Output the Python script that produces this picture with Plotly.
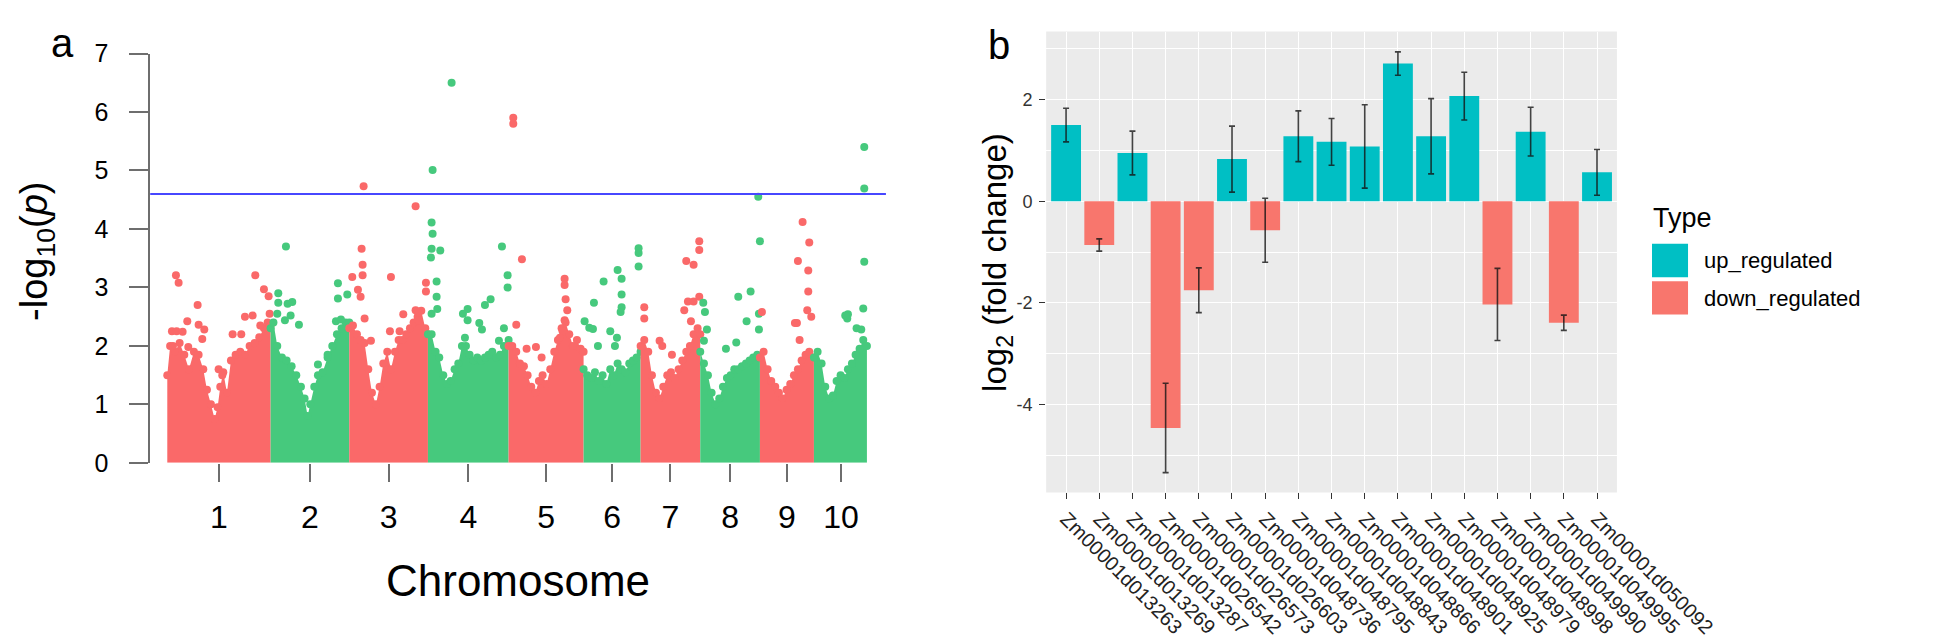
import plotly.graph_objects as go

W, H = 1946, 640

# ---------------- Panel a : Manhattan plot data ----------------
chrom_names = ["1", "2", "3", "4", "5", "6", "7", "8", "9", "10"]
chrom_lengths_mb = [310, 236, 236, 242, 225, 171, 179, 179, 162, 162]
threshold = 4.6

# upper envelope of the dense SNP mass (position in Mb within chromosome, -log10 p)
chr1_envelope = [(0, 1.5), (8.5, 2.0), (23, 1.9), (37, 2.05), (51, 1.85), (65, 1.6), (80, 1.9),
                 (94, 1.85), (108, 1.6), (119, 1.25), (131, 1.0), (142, 0.75), (151, 0.95),
                 (159, 1.3), (168, 1.55), (179, 1.2), (191, 1.75), (205, 1.85), (219, 1.9),
                 (233, 1.85), (247, 2.0), (262, 2.05), (276, 2.15), (290, 2.3), (301, 2.4), (310, 2.35)]
chr2_envelope = [(0, 2.3), (8.5, 2.4), (20, 2.0), (34, 1.8), (48, 1.75), (63, 1.65), (77, 1.5),
                 (91, 1.3), (102, 1.1), (111, 0.8), (119, 1.0), (131, 1.3), (142, 1.5), (156, 1.55),
                 (171, 1.8), (185, 2.0), (199, 2.2), (213, 2.3), (225, 2.4), (236, 2.4)]
chr3_envelope = [(0, 2.3), (11, 2.35), (23, 2.2), (34, 2.1), (46, 2.05), (57, 1.6), (68, 1.2),
                 (80, 1.0), (91, 1.3), (102, 1.7), (114, 1.9), (125, 1.6), (137, 1.9), (148, 2.1),
                 (159, 2.1), (171, 2.2), (182, 2.3), (193, 2.4), (205, 2.5), (216, 2.6), (228, 2.3), (236, 2.2)]
chr4_envelope = [(0, 2.2), (11, 2.2), (23, 1.9), (34, 1.8), (46, 1.5), (57, 1.35), (68, 1.4),
                 (80, 1.6), (91, 1.7), (102, 2.0), (114, 2.0), (125, 1.85), (137, 1.75), (148, 1.8),
                 (159, 1.75), (171, 1.8), (182, 1.85), (193, 1.9), (205, 1.8), (216, 1.85), (228, 2.0), (242, 2.1)]
chr5_envelope = [(0, 2.0), (11, 2.0), (23, 1.9), (34, 1.7), (46, 1.65), (57, 1.5), (68, 1.3),
                 (80, 1.2), (91, 1.4), (102, 1.5), (114, 1.35), (125, 1.6), (137, 1.9), (148, 2.1),
                 (159, 2.3), (171, 2.4), (182, 2.2), (193, 2.0), (205, 2.1), (216, 1.95), (225, 1.9)]
chr6_envelope = [(0, 1.6), (11, 1.5), (23, 1.45), (34, 1.55), (46, 1.4), (57, 1.5), (68, 1.35),
                 (80, 1.6), (91, 1.5), (102, 1.7), (114, 1.6), (125, 1.55), (137, 1.7), (148, 1.75),
                 (159, 1.8), (171, 1.9)]
chr7_envelope = [(0, 2.0), (11, 2.1), (23, 1.9), (34, 1.5), (46, 1.2), (57, 1.1), (68, 1.3),
                 (80, 1.5), (91, 1.55), (102, 1.45), (114, 1.6), (125, 1.75), (137, 1.9), (148, 2.0),
                 (159, 2.2), (171, 2.3), (179, 2.2)]
chr8_envelope = [(0, 1.9), (11, 1.7), (23, 1.5), (34, 1.2), (46, 1.0), (57, 1.1), (68, 1.3),
                 (80, 1.45), (91, 1.5), (102, 1.6), (114, 1.6), (125, 1.65), (137, 1.7), (148, 1.75),
                 (159, 1.8), (171, 1.85), (179, 1.8)]
chr9_envelope = [(0, 1.8), (11, 1.9), (23, 1.6), (34, 1.4), (46, 1.3), (57, 1.2), (68, 1.1),
                 (80, 1.25), (91, 1.35), (102, 1.5), (114, 1.6), (125, 1.75), (137, 1.85), (148, 1.9), (162, 1.8)]
chr10_envelope = [(0, 1.8), (11, 1.9), (23, 1.7), (34, 1.3), (46, 1.1), (57, 1.15), (68, 1.4),
                  (80, 1.5), (91, 1.45), (102, 1.6), (114, 1.7), (125, 1.85), (137, 1.95), (148, 2.1), (159, 2.0)]

# individual SNPs standing out above the mass (position in Mb within chromosome, -log10 p)
chr1_hits = [(26, 3.21), (34, 3.08), (14, 2.25), (28, 2.25), (46, 2.24), (60, 2.42), (91, 2.70),
             (94, 2.36), (111, 2.28), (105, 2.12), (17, 2.0), (63, 1.98), (154, 1.6), (165, 1.5),
             (196, 2.2), (233, 2.5), (256, 2.52), (222, 2.2), (264, 3.21), (290, 2.97), (304, 2.85),
             (307, 2.55), (279, 2.35)]
chr2_hits = [(23, 2.90), (23, 2.74), (20, 2.55), (46, 3.70), (51, 2.72), (65, 2.75), (60, 2.52),
             (85, 2.36), (43, 2.44), (142, 1.68), (171, 1.85), (202, 3.07), (202, 2.81), (196, 2.42),
             (211, 2.45), (230, 2.88)]
chr3_hits = [(43, 4.73), (37, 3.66), (40, 3.39), (40, 3.21), (9, 3.18), (26, 2.96), (34, 2.84),
             (46, 2.47), (125, 3.18), (199, 4.39), (199, 2.61), (162, 2.54), (208, 2.44), (230, 3.08),
             (230, 2.93), (151, 2.25), (122, 2.25), (65, 2.09)]
chr4_hits = [(71, 6.50), (14, 5.01), (11, 4.11), (14, 3.92), (11, 3.66), (37, 3.63), (9, 3.51),
             (26, 3.10), (26, 2.84), (28, 2.63), (11, 2.55), (119, 2.63), (111, 2.14), (105, 2.55),
             (119, 2.44), (171, 2.70), (188, 2.80), (154, 2.39), (162, 2.28), (213, 2.09), (222, 3.70),
             (228, 2.30), (239, 3.21), (239, 3.00)]
chr5_hits = [(14, 5.90), (14, 5.80), (40, 3.48), (23, 2.36), (168, 3.15), (168, 3.04), (171, 2.80),
             (176, 2.61), (168, 2.44), (162, 2.25), (154, 2.14), (54, 1.95), (82, 1.98), (99, 1.80)]
chr6_hits = [(31, 2.74), (60, 3.10), (102, 3.30), (114, 3.15), (114, 2.88), (114, 2.66), (111, 2.58),
             (165, 3.67), (165, 3.59), (165, 3.36), (3, 2.42), (17, 2.31), (28, 2.29), (80, 2.25),
             (100, 2.14), (94, 2.00), (43, 2.00)]
chr7_hits = [(11, 2.66), (11, 2.47), (137, 3.45), (159, 3.39), (176, 3.79), (176, 3.64), (131, 2.61),
             (142, 2.76), (159, 2.76), (176, 2.84), (151, 2.42), (57, 2.09), (65, 2.00), (94, 1.85)]
chr8_hits = [(174, 4.55), (179, 3.79), (151, 2.93), (114, 2.84), (9, 2.74), (14, 2.58), (20, 2.28),
             (11, 2.09), (139, 2.42), (176, 2.55), (176, 2.28), (108, 2.06), (77, 1.95)]
chr9_hits = [(128, 4.12), (148, 3.77), (114, 3.45), (145, 3.29), (145, 2.93), (142, 2.61), (154, 2.50),
             (111, 2.39), (6, 2.58), (105, 2.39), (119, 2.10)]
chr10_hits = [(151, 5.40), (151, 4.69), (151, 3.44), (148, 2.64), (102, 2.54), (100, 2.47), (142, 2.28),
              (94, 2.52), (128, 2.30)]

# ---------------- Panel b : qRT-PCR bar data ----------------
genes = ["Zm00001d013263", "Zm00001d013269", "Zm00001d013287", "Zm00001d026542",
         "Zm00001d026573", "Zm00001d026603", "Zm00001d048736", "Zm00001d048795",
         "Zm00001d048843", "Zm00001d048866", "Zm00001d048901", "Zm00001d048925",
         "Zm00001d048979", "Zm00001d048998", "Zm00001d049990", "Zm00001d049995",
         "Zm00001d050092"]
log2fc = [1.50, -0.86, 0.95, -4.46, -1.75, 0.83, -0.57, 1.28, 1.17, 1.08, 2.71, 1.28,
          2.07, -2.03, 1.37, -2.39, 0.57]
log2fc_err = [0.33, 0.12, 0.43, 0.88, 0.44, 0.65, 0.63, 0.50, 0.46, 0.82, 0.23, 0.74,
              0.47, 0.71, 0.48, 0.15, 0.45]
reg_type = ["up_regulated", "down_regulated", "up_regulated", "down_regulated", "down_regulated",
            "up_regulated", "down_regulated", "up_regulated", "up_regulated", "up_regulated",
            "up_regulated", "up_regulated", "up_regulated", "down_regulated", "up_regulated",
            "down_regulated", "up_regulated"]
type_levels = ["up_regulated", "down_regulated"]

# ---------------- styles ----------------
RED_A, GREEN_A = "#FA6969", "#46C97D"
UP_COL, DOWN_COL = "#00BFC4", "#F8766D"
FONT = "Liberation Sans, Arial, Helvetica, sans-serif"
type_colors = {"up_regulated": UP_COL, "down_regulated": DOWN_COL}


def fx(p):
    return p / W


def fy(p):
    return 1 - p / H


envelopes = [chr1_envelope, chr2_envelope, chr3_envelope, chr4_envelope, chr5_envelope,
             chr6_envelope, chr7_envelope, chr8_envelope, chr9_envelope, chr10_envelope]
hits = [chr1_hits, chr2_hits, chr3_hits, chr4_hits, chr5_hits,
        chr6_hits, chr7_hits, chr8_hits, chr9_hits, chr10_hits]

offsets = []
acc = 0
for L in chrom_lengths_mb:
    offsets.append(acc)
    acc += L
genome_len = acc
centers = [o + L / 2 for o, L in zip(offsets, chrom_lengths_mb)]

fig = go.Figure()

for i in range(len(chrom_names)):
    col = RED_A if i % 2 == 0 else GREEN_A
    ex = [offsets[i] + p for p, _ in envelopes[i]]
    ey = [v for _, v in envelopes[i]]
    fig.add_trace(go.Scatter(x=ex, y=ey, mode="markers", fill="tozeroy", fillcolor=col,
                             marker=dict(color=col, size=8, line=dict(width=0)),
                             cliponaxis=False, hoverinfo="skip", showlegend=False,
                             xaxis="x", yaxis="y"))
    hx = [offsets[i] + p for p, _ in hits[i]]
    hy = [v for _, v in hits[i]]
    fig.add_trace(go.Scatter(x=hx, y=hy, mode="markers",
                             marker=dict(color=col, size=8, line=dict(width=0)),
                             cliponaxis=False, showlegend=False, xaxis="x", yaxis="y"))

bar_colors = [type_colors[t] for t in reg_type]
fig.add_trace(go.Bar(x=genes, y=log2fc, width=0.9, marker=dict(color=bar_colors, line=dict(width=0)),
                     error_y=dict(type="data", array=log2fc_err, symmetric=True,
                                  color="rgba(20,20,20,0.8)", thickness=1.6, width=3),
                     showlegend=False, xaxis="x2", yaxis="y2"))

# pixel layout
a_left, a_right, a_top, a_bottom = 150, 926, 33, 461
mb_per_px = genome_len / (907 - 168)
x_lo = -(168 - a_left) * mb_per_px
x_hi = genome_len + (a_right - 907) * mb_per_px

b_left, b_right, b_top, b_bottom = 1095, 1697, 10, 492
b_ymin, b_ymax = -5.73, 3.34

fig.update_layout(
    width=W, height=H, autosize=False,
    margin=dict(l=0, r=0, t=0, b=0),
    paper_bgcolor="white", plot_bgcolor="white",
    font=dict(family=FONT, color="black"),
    bargap=0.1,
    xaxis=dict(domain=[fx(a_left), fx(a_right)], range=[x_lo, x_hi], anchor="y",
               tickmode="array", tickvals=centers, ticktext=chrom_names,
               ticks="outside", ticklen=18, tickwidth=1.5, tickcolor="#6E6E6E",
               showline=False, showgrid=False, zeroline=False,
               tickfont=dict(size=32, color="black", family=FONT), ticklabelstandoff=8),
    yaxis=dict(domain=[fy(a_bottom), fy(a_top)], range=[0, 7], anchor="x",
               tickmode="array", tickvals=[0, 1, 2, 3, 4, 5, 6, 7],
               ticks="outside", ticklen=19, tickwidth=1.5, tickcolor="#6E6E6E",
               showline=True, linecolor="#6E6E6E", linewidth=1.5,
               showgrid=False, zeroline=False,
               tickfont=dict(size=25, color="black", family=FONT), ticklabelstandoff=16),
    xaxis2=dict(domain=[fx(b_left), fx(b_right)], anchor="y2", type="category",
                range=[-0.6, len(genes) - 0.4], tickangle=45,
                ticks="outside", ticklen=6, tickwidth=1.2, tickcolor="#333333",
                showgrid=True, gridcolor="white", gridwidth=1.3,
                showline=False, zeroline=False,
                tickfont=dict(size=20, color="#222222", family=FONT)),
    yaxis2=dict(domain=[fy(b_bottom), fy(b_top)], anchor="x2", range=[b_ymin, b_ymax],
                tickmode="array", tickvals=[-4, -2, 0, 2], ticktext=["-4", "-2", "0", "2"],
                ticks="outside", ticklen=6, tickwidth=1.2, tickcolor="#333333",
                showgrid=True, gridcolor="white", gridwidth=1.3,
                minor=dict(tickmode="array", tickvals=[-5, -3, -1, 1, 3], showgrid=True,
                           gridcolor="white", gridwidth=0.6, ticks=""),
                showline=False, zeroline=False,
                tickfont=dict(size=18, color="#333333", family=FONT), ticklabelstandoff=3),
)

shapes = [
    dict(type="rect", xref="x2 domain", yref="y2 domain", x0=0, x1=1, y0=0, y1=1,
         fillcolor="#EBEBEB", line=dict(width=0), layer="below"),
    dict(type="line", xref="x domain", yref="y", x0=0, x1=1, y0=threshold, y1=threshold,
         line=dict(color="#4747FF", width=2)),
    # legend keys
    dict(type="rect", xref="paper", yref="paper", x0=fx(1734), x1=fx(1772), y0=fy(267), y1=fy(232),
         fillcolor=type_colors[type_levels[0]], line=dict(width=0)),
    dict(type="rect", xref="paper", yref="paper", x0=fx(1734), x1=fx(1772), y0=fy(306), y1=fy(271),
         fillcolor=type_colors[type_levels[1]], line=dict(width=0)),
]
fig.update_layout(shapes=shapes)

annotations = [
    dict(text="a", x=fx(57), y=fy(22), xref="paper", yref="paper", showarrow=False,
         font=dict(size=40, family=FONT, color="black"), xanchor="center", yanchor="middle"),
    dict(text="b", x=fx(1045), y=fy(24), xref="paper", yref="paper", showarrow=False,
         font=dict(size=40, family=FONT, color="black"), xanchor="center", yanchor="middle"),
    dict(text="-log<sub>10</sub>(<i>p</i>)", x=fx(30), y=fy(240), xref="paper", yref="paper",
         showarrow=False, textangle=-90, font=dict(size=38, family=FONT, color="black"),
         xanchor="center", yanchor="middle"),
    dict(text="Chromosome", x=fx(538), y=fy(584), xref="paper", yref="paper", showarrow=False,
         font=dict(size=44, family=FONT, color="black"), xanchor="center", yanchor="middle"),
    dict(text="log<sub>2</sub> (fold change)", x=fx(1043), y=fy(251), xref="paper", yref="paper",
         showarrow=False, textangle=-90, font=dict(size=33, family=FONT, color="black"),
         xanchor="center", yanchor="middle"),
    dict(text="Type", x=fx(1733), y=fy(205), xref="paper", yref="paper", showarrow=False,
         font=dict(size=27, family=FONT, color="black"), xanchor="left", yanchor="middle"),
    dict(text=type_levels[0], x=fx(1787), y=fy(249), xref="paper", yref="paper", showarrow=False,
         font=dict(size=22, family=FONT, color="black"), xanchor="left", yanchor="middle"),
    dict(text=type_levels[1], x=fx(1787), y=fy(289), xref="paper", yref="paper", showarrow=False,
         font=dict(size=22, family=FONT, color="black"), xanchor="left", yanchor="middle"),
]
fig.update_layout(annotations=annotations)

fig.write_html("out.html")
